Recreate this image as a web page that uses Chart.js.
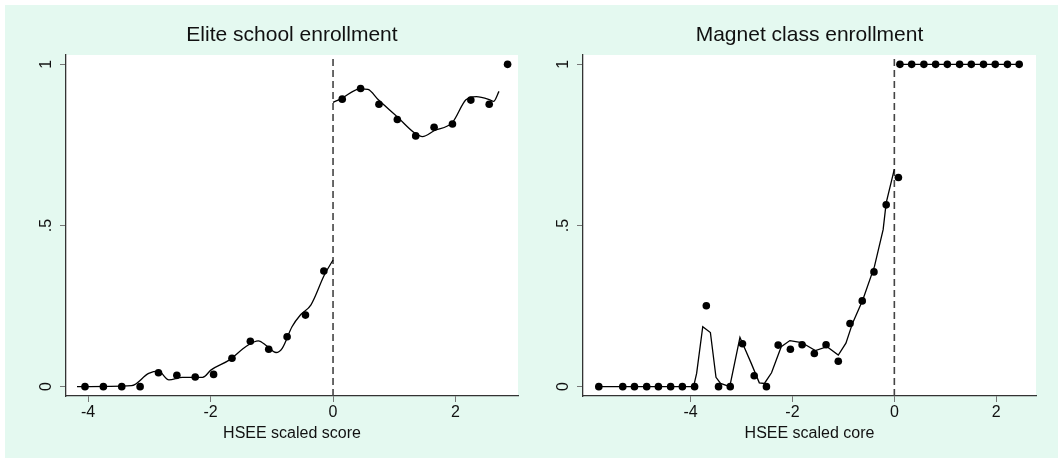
<!DOCTYPE html>
<html>
<head>
<meta charset="utf-8">
<script src="https://cdn.jsdelivr.net/npm/chart.js@4.4.1/dist/chart.umd.min.js"></script>
<style>
  body { margin: 0; background: #fff; }
  #bg { position: absolute; left: 5px; top: 5px; width: 1053px; height: 453px; background: #e4f9f0; }
  canvas { position: absolute; top: 5px; }
  #elite { left: 5px; }
  #magnet { left: 528px; }
</style>
</head>
<body>
<div id="bg"></div>
<canvas id="elite" width="523" height="453"></canvas>
<canvas id="magnet" width="530" height="453"></canvas>
<script>
// Elite school panel: binned means and fitted curve on each side of cutoff
const eliteBinX = [-4.05, -3.75, -3.45, -3.15, -2.85, -2.55, -2.25, -1.95, -1.65, -1.35, -1.05, -0.75, -0.45, -0.15,
    0.15, 0.45, 0.75, 1.05, 1.35, 1.65, 1.95, 2.25, 2.55, 2.85];
const eliteShare = [0, 0, 0, 0, 0.043, 0.035, 0.030, 0.038, 0.088, 0.141, 0.116, 0.155, 0.222, 0.359,
    0.892, 0.925, 0.876, 0.829, 0.778, 0.805, 0.815, 0.889, 0.876, 1.0];
const eliteFitLeftX = [-4.18, -3.29, -3.01, -2.85, -2.68, -2.46, -2.13, -1.99, -1.69, -1.41, -1.22, -1.08, -0.93, -0.83, -0.67, -0.53, -0.36, -0.14, 0];
const eliteFitLeftY = [0, 0.003, 0.041, 0.048, 0.021, 0.029, 0.029, 0.052, 0.083, 0.126, 0.142, 0.126, 0.106, 0.119, 0.186, 0.223, 0.254, 0.347, 0.393];
const eliteFitRightX = [0, 0.13, 0.44, 0.57, 0.74, 1.05, 1.34, 1.46, 1.65, 1.95, 2.17, 2.34, 2.56, 2.62, 2.71];
const eliteFitRightY = [0.882, 0.893, 0.924, 0.922, 0.890, 0.837, 0.786, 0.776, 0.794, 0.820, 0.890, 0.900, 0.890, 0.885, 0.916];

// Magnet class panel
const magnetBinX = [-5.80, -5.33, -5.10, -4.86, -4.63, -4.39, -4.16, -3.92, -3.69, -3.45, -3.22, -2.98, -2.75, -2.51,
    -2.28, -2.04, -1.81, -1.57, -1.34, -1.10, -0.87, -0.63, -0.40, -0.16, 0.08,
    0.11, 0.34, 0.58, 0.81, 1.04, 1.28, 1.51, 1.75, 1.98, 2.22, 2.45];
const magnetShare = [0, 0, 0, 0, 0, 0, 0, 0, 0.251, 0, 0, 0.133, 0.034, 0,
    0.129, 0.116, 0.130, 0.103, 0.130, 0.079, 0.196, 0.266, 0.356, 0.564, 0.649,
    1, 1, 1, 1, 1, 1, 1, 1, 1, 1, 1];
const magnetFitLeftX = [-5.80, -3.94, -3.88, -3.76, -3.61, -3.50, -3.41, -3.23, -3.03, -2.81, -2.65, -2.55, -2.41,
    -2.22, -2.05, -1.82, -1.55, -1.32, -1.10, -0.95, -0.82, -0.62, -0.39, -0.22, -0.16, 0];
const magnetFitLeftY = [0, 0, 0.041, 0.186, 0.168, 0.029, 0.010, 0, 0.153, 0.073, 0.012, 0.010, 0.043,
    0.124, 0.143, 0.137, 0.112, 0.124, 0.098, 0.135, 0.197, 0.269, 0.373, 0.487, 0.570, 0.675];
const magnetFitRightX = [0.11, 2.45];
const magnetFitRightY = [1, 1];

const cutoff = 0;
const xTickValues = [-4, -2, 0, 2];
const yTickValues = [0, 0.5, 1];
const yTickLabels = ["0", ".5", "1"];
const yMin = -0.029, yMax = 1.029;

const FONT = "'Liberation Sans', Arial, sans-serif";

function pts(xs, ys) {
    return xs.map((x, i) => ({ x: x, y: ys[i] }));
}

function makePanel(id, cfg) {
    return new Chart(document.getElementById(id), {
        type: "line",
        data: {
            datasets: [
                {
                    data: pts(cfg.binX, cfg.share),
                    showLine: false,
                    pointRadius: 3.8,
                    pointBackgroundColor: "#000",
                    pointBorderWidth: 0,
                },
                {
                    data: pts(cfg.fitLX, cfg.fitLY),
                    borderColor: "#000",
                    borderWidth: 1.3,
                    pointRadius: 0,
                    cubicInterpolationMode: cfg.smooth ? "monotone" : "default",
                    tension: 0,
                },
                {
                    data: pts(cfg.fitRX, cfg.fitRY),
                    borderColor: "#000",
                    borderWidth: 1.3,
                    pointRadius: 0,
                    cubicInterpolationMode: cfg.smooth ? "monotone" : "default",
                    tension: 0,
                },
                {
                    // vertical dashed line at the cutoff
                    data: [{ x: cutoff, y: yMin }, { x: cutoff, y: yMax }],
                    borderColor: "#444",
                    borderWidth: 1.6,
                    borderDash: [7, 4],
                    pointRadius: 0,
                },
            ],
        },
        options: {
            responsive: false,
            animation: false,
            layout: { padding: { left: 0, right: cfg.padRight, top: 0, bottom: 0 } },
            plugins: {
                legend: { display: false },
                tooltip: { enabled: false },
                title: {
                    display: true,
                    text: cfg.title,
                    fullSize: false,
                    color: "#111",
                    font: { family: FONT, size: 21, weight: "normal" },
                    padding: { top: 17.5, bottom: 7.3 },
                },
            },
            scales: {
                x: {
                    type: "linear",
                    min: cfg.xMin,
                    max: cfg.xMax,
                    afterBuildTicks: s => { s.ticks = xTickValues.map(v => ({ value: v })); },
                    afterFit: s => { s.height = 62; },
                    ticks: {
                        color: "#111",
                        padding: 1,
                        maxRotation: 0,
                        font: { family: FONT, size: 16 },
                        callback: v => String(v),
                    },
                    grid: { drawOnChartArea: false, drawTicks: true, tickLength: 6, color: "#777" },
                    border: { display: true, color: "#333", width: 1.3 },
                    title: {
                        display: true,
                        text: cfg.xTitle,
                        color: "#111",
                        font: { family: FONT, size: 16 },
                        padding: { top: 0, bottom: 14.4 },
                    },
                },
                y: {
                    type: "linear",
                    min: yMin,
                    max: yMax,
                    afterBuildTicks: s => { s.ticks = yTickValues.map(v => ({ value: v })); },
                    afterFit: s => { s.width = cfg.yWidth; },
                    ticks: {
                        color: "#111",
                        padding: 7,
                        minRotation: 90,
                        maxRotation: 90,
                        crossAlign: "center",
                        font: { family: FONT, size: 16 },
                        callback: v => yTickLabels[yTickValues.indexOf(v)],
                    },
                    grid: { drawOnChartArea: false, drawTicks: true, tickLength: 6, color: "#777" },
                    border: { display: true, color: "#333", width: 1.3 },
                },
            },
        },
        plugins: [{
            id: "whitePlot",
            beforeDraw: c => {
                const a = c.chartArea;
                c.ctx.save();
                c.ctx.fillStyle = "#fff";
                c.ctx.fillRect(a.left, a.top, a.right - a.left, a.bottom - a.top);
                c.ctx.restore();
            },
        }],
    });
}

makePanel("elite", {
    title: "Elite school enrollment",
    xTitle: "HSEE scaled score",
    binX: eliteBinX, share: eliteShare,
    fitLX: eliteFitLeftX, fitLY: eliteFitLeftY,
    fitRX: eliteFitRightX, fitRY: eliteFitRightY,
    smooth: true,
    xMin: -4.36, xMax: 3.02,
    yWidth: 61, padRight: 10,
});

makePanel("magnet", {
    title: "Magnet class enrollment",
    xTitle: "HSEE scaled core",
    binX: magnetBinX, share: magnetShare,
    fitLX: magnetFitLeftX, fitLY: magnetFitLeftY,
    fitRX: magnetFitRightX, fitRY: magnetFitRightY,
    smooth: false,
    xMin: -6.11, xMax: 2.78,
    yWidth: 55, padRight: 22,
});
</script>
</body>
</html>
